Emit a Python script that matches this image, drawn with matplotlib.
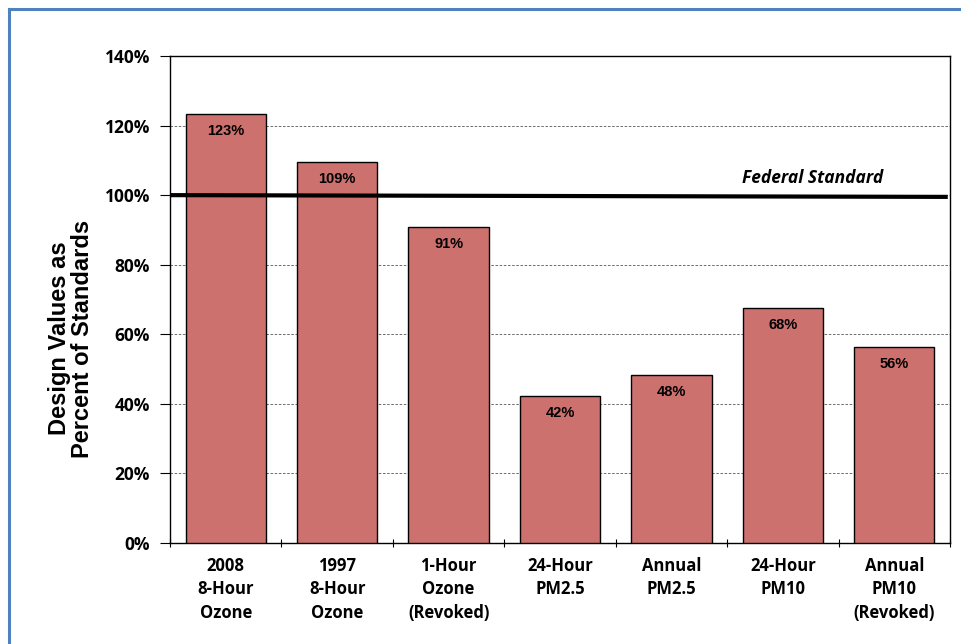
import numpy as np
import matplotlib.pyplot as plt
from matplotlib.lines import Line2D

# ==================== DATA ====================
categories = ["2008\n8-Hour\nOzone", "1997\n8-Hour\nOzone", "1-Hour\nOzone\n(Revoked)",
              "24-Hour\nPM2.5", "Annual\nPM2.5", "24-Hour\nPM10", "Annual\nPM10\n(Revoked)"]
percent_of_standard = [123.2, 109.4, 90.9, 42.2, 48.2, 67.6, 56.4]
federal_standard = 100
y_ticks = [0, 20, 40, 60, 80, 100, 120, 140]

BAR_COLOR = "#CD716E"
TICK_FONT = ["Open Sans", "DejaVu Sans"]

fig = plt.figure(figsize=(9.61, 6.44), dpi=100)
ax = fig.add_axes([170 / 961, 101 / 644, 780 / 961, 487 / 644])

# ── outer blue frame (left + top edge only visible) ──
fig.add_artist(Line2D([9 / 961, 9 / 961], [0, 1 - 9 / 644], transform=fig.transFigure,
                      color="#4F81BD", lw=2.2))
fig.add_artist(Line2D([9 / 961, 1], [1 - 9 / 644, 1 - 9 / 644], transform=fig.transFigure,
                      color="#4F81BD", lw=2.2))

x = np.arange(len(categories))
bars = ax.bar(x, percent_of_standard, width=0.72, color=BAR_COLOR,
              edgecolor="black", linewidth=1.0, zorder=3)

for xi, v in zip(x, percent_of_standard):
    ax.text(xi, v - 2.8, f"{v:.0f}%", ha="center", va="top", fontsize=10.5,
            fontweight="bold", family="Liberation Sans", zorder=5)

# federal standard line
ax.plot([-0.5, 6.48], [federal_standard, federal_standard - 0.5], color="black",
        lw=3, zorder=4, solid_capstyle="butt")
ax.text(5.27, federal_standard + 2.2, "Federal Standard", ha="center", va="bottom",
        fontsize=12.5, fontweight="bold", style="italic", family=TICK_FONT)

ax.set_xlim(-0.5, 6.5)
ax.set_ylim(0, 140)
ax.set_yticks(y_ticks)
ax.set_yticklabels([f"{t}%" for t in y_ticks], fontsize=12.5, fontweight="bold", family=TICK_FONT)
ax.grid(axis="y", linestyle=(0, (3, 2)), color="#555555", linewidth=0.6, zorder=0)

ax.set_xticks(np.arange(-0.5, len(categories), 1.0))
ax.set_xticklabels([])
ax.set_xticks(x, minor=True)
ax.set_xticklabels(categories, minor=True, fontsize=12, fontweight="bold",
                   family=TICK_FONT, linespacing=1.38)
ax.tick_params(axis="x", which="minor", length=0, pad=10)
ax.tick_params(axis="x", which="major", length=6, direction="inout", width=0.8)
ax.tick_params(axis="y", length=7, direction="out", width=0.8, pad=7.5)

for s in ax.spines.values():
    s.set_linewidth(1.0)

ax.set_ylabel("Design Values as\nPercent of Standards", fontsize=17, fontweight="bold",
              family="Liberation Sans", linespacing=1.0)
ax.yaxis.set_label_coords(-0.097, 0.42)

fig.savefig("out.png", dpi=100)
